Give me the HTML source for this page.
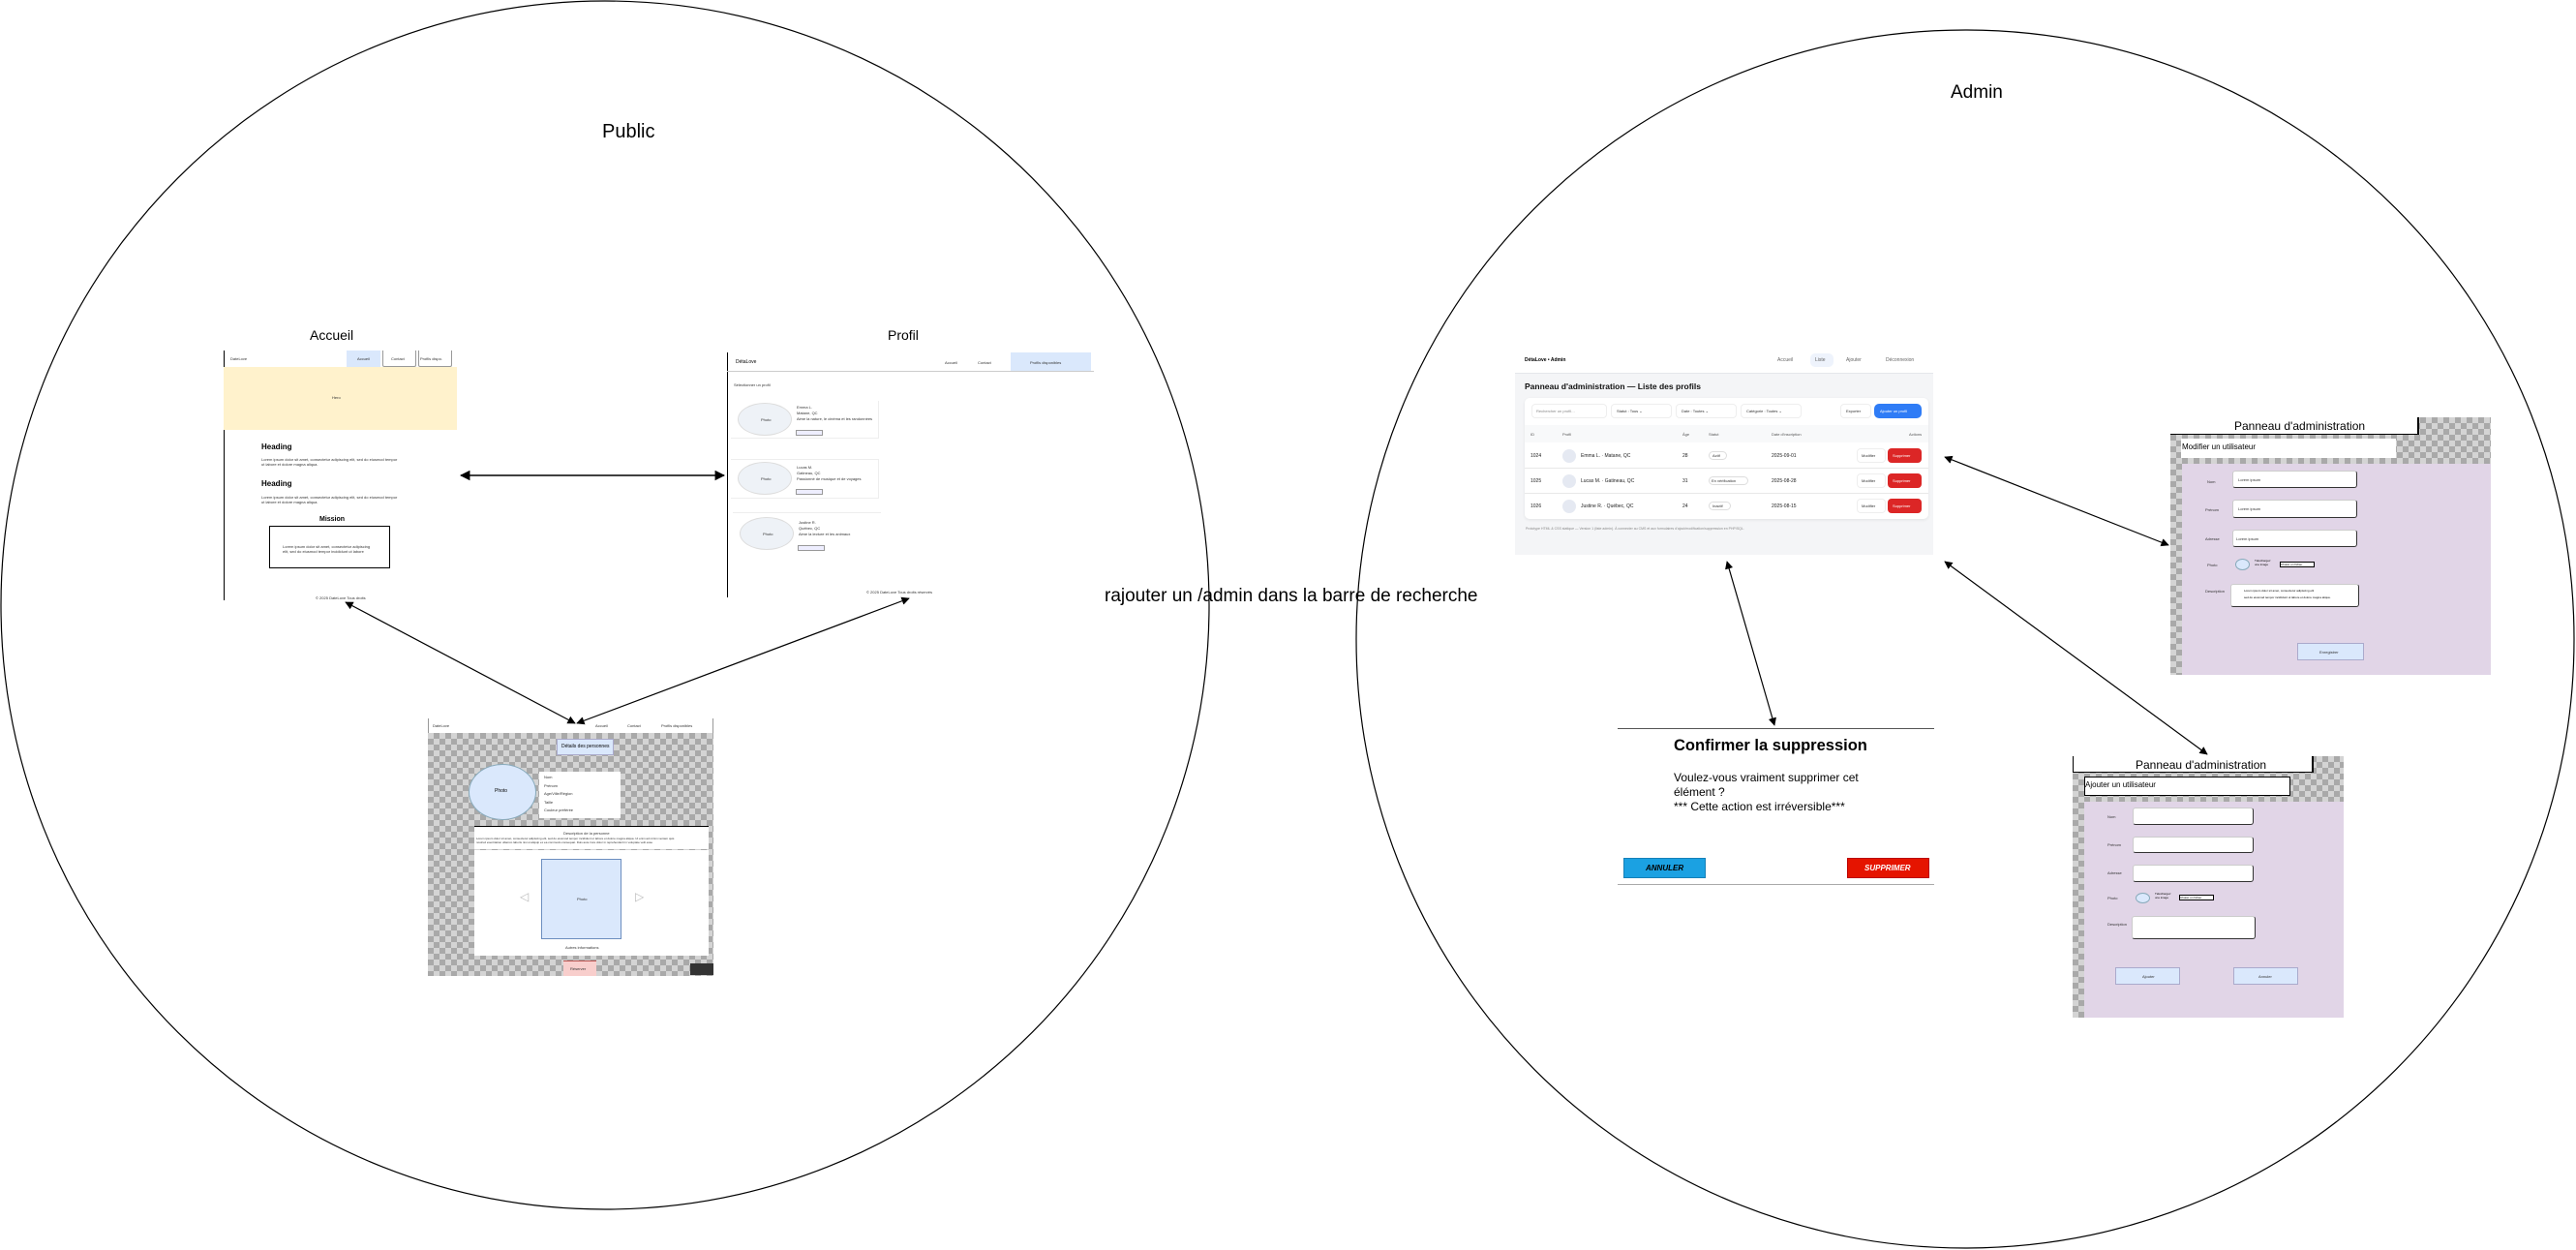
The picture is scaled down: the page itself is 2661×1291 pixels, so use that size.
<!DOCTYPE html>
<html><head><meta charset="utf-8"><style>
*{box-sizing:border-box;margin:0;padding:0}
body{width:2661px;height:1291px;background:#fff;position:relative;overflow:hidden;font-family:"Liberation Sans",sans-serif;color:#000}
.a{position:absolute}
.t{position:absolute;white-space:nowrap}
.chk{background-color:#d4d4d4;background-image:conic-gradient(#a9a9a9 25%,transparent 0 50%,#a9a9a9 0 75%,transparent 0);background-size:12px 12px}
.tiny{font-size:4px;color:#333}
.sm{font-size:5px;color:#333}
.inp{position:absolute;background:#fff;border:1px solid #333;border-radius:3px;border-top-color:#ccc;border-left-color:#ccc}
</style></head><body>

<svg class="a" style="left:0;top:0" width="2661" height="1291">
<defs>
<marker id="ar" viewBox="0 0 10 10" refX="9" refY="5" markerWidth="7" markerHeight="7" orient="auto-start-reverse"><path d="M0,0 L10,5 L0,10 z" fill="#000"/></marker>
</defs>
<ellipse cx="625" cy="625" rx="624" ry="624" fill="none" stroke="#000" stroke-width="1.2"/>
<ellipse cx="2030" cy="660" rx="629" ry="629" fill="none" stroke="#000" stroke-width="1.2"/>
<line x1="476" y1="491" x2="748" y2="491" stroke="#000" stroke-width="1.5" marker-start="url(#ar)" marker-end="url(#ar)"/>
<line x1="357" y1="622" x2="594" y2="747" stroke="#000" stroke-width="1.2" marker-start="url(#ar)" marker-end="url(#ar)"/>
<line x1="939" y1="618" x2="596" y2="747" stroke="#000" stroke-width="1.2" marker-start="url(#ar)" marker-end="url(#ar)"/>
<line x1="2009" y1="472" x2="2240" y2="563" stroke="#000" stroke-width="1.2" marker-start="url(#ar)" marker-end="url(#ar)"/>
<line x1="2009" y1="580" x2="2280" y2="779" stroke="#000" stroke-width="1.2" marker-start="url(#ar)" marker-end="url(#ar)"/>
<line x1="1784" y1="580" x2="1833" y2="749" stroke="#000" stroke-width="1.2" marker-start="url(#ar)" marker-end="url(#ar)"/>
</svg>

<div class="t" style="left:622px;top:125px;font-size:20px">Public</div>
<div class="t" style="left:2015px;top:85px;font-size:19px">Admin</div>
<div class="t" style="left:1141px;top:605px;font-size:19px">rajouter un /admin dans la barre de recherche</div>

<!-- Accueil -->
<div class="t" style="left:320px;top:338px;font-size:14px">Accueil</div>
<div class="a" style="left:231px;top:362px;width:1px;height:258px;background:#000"></div>
<div class="t tiny" style="left:238px;top:368px">DateLove</div>
<div class="a" style="left:358px;top:362px;width:35px;height:17px;background:#dae8fc"></div>
<div class="a" style="left:395px;top:362px;width:35px;height:17px;border:1px solid #999;border-top:none;border-radius:0 0 2px 2px"></div>
<div class="a" style="left:432px;top:362px;width:35px;height:17px;border:1px solid #999;border-top:none;border-radius:0 0 2px 2px"></div>
<div class="t tiny" style="left:369px;top:368px">Accueil</div>
<div class="t tiny" style="left:404px;top:368px">Contact</div>
<div class="t tiny" style="left:434px;top:368px">Profils dispo.</div>
<div class="a" style="left:231px;top:379px;width:241px;height:65px;background:#fff2cc"></div>
<div class="t tiny" style="left:343px;top:408px">Hero</div>
<div class="t" style="left:270px;top:457px;font-size:8px;font-weight:bold">Heading</div>
<div class="t tiny" style="left:270px;top:472px;line-height:5px">Lorem ipsum dolor sit amet, consectetur adipiscing elit, sed do eiusmod tempor<br>ut labore et dolore magna aliqua.</div>
<div class="t" style="left:270px;top:495px;font-size:8px;font-weight:bold">Heading</div>
<div class="t tiny" style="left:270px;top:511px;line-height:5px">Lorem ipsum dolor sit amet, consectetur adipiscing elit, sed do eiusmod tempor<br>ut labore et dolore magna aliqua.</div>
<div class="t" style="left:330px;top:533px;font-size:7px;font-weight:bold">Mission</div>
<div class="a" style="left:278px;top:543px;width:125px;height:44px;border:1px solid #000"></div>
<div class="t tiny" style="left:292px;top:562px;line-height:5px">Lorem ipsum dolor sit amet, consectetur adipiscing<br>elit, sed do eiusmod tempor incididunt ut labore</div>
<div class="t tiny" style="left:326px;top:615px">© 2025 DateLove Tous droits</div>

<!-- Profil -->
<div class="t" style="left:917px;top:338px;font-size:14px">Profil</div>
<div class="a" style="left:751px;top:364px;width:1px;height:253px;background:#000"></div>
<div class="a" style="left:751px;top:383px;width:379px;height:1px;background:#ccc"></div>
<div class="a" style="left:1044px;top:364px;width:83px;height:19px;background:#dae8fc"></div>
<div class="t sm" style="left:760px;top:371px;color:#000">DétaLove</div>
<div class="t tiny" style="left:976px;top:372px">Accueil</div>
<div class="t tiny" style="left:1010px;top:372px">Contact</div>
<div class="t tiny" style="left:1064px;top:372px">Profils disponibles</div>
<div class="t tiny" style="left:758px;top:395px">Sélectionner un profil</div>
<div class="a" style="left:755px;top:414px;width:153px;height:39px;border:1px solid #eee;border-left:none;border-top:none"></div>
<div class="a" style="left:762px;top:416px;width:56px;height:34px;border-radius:50%;background:#eef2f7;border:1px solid #ddd"></div>
<div class="t tiny" style="left:786px;top:431px">Photo</div>
<div class="t tiny" style="left:823px;top:418px;line-height:6px">Emma L.<br>Matane, QC<br>Aime la nature, le cinéma et les randonnées</div>
<div class="a" style="left:822px;top:444px;width:28px;height:6px;border:1px solid #999;background:#eef"></div>
<div class="a" style="left:755px;top:474px;width:153px;height:41px;border:1px solid #eee;border-left:none"></div>
<div class="a" style="left:762px;top:477px;width:56px;height:34px;border-radius:50%;background:#eef2f7;border:1px solid #ddd"></div>
<div class="t tiny" style="left:786px;top:492px">Photo</div>
<div class="t tiny" style="left:823px;top:480px;line-height:6px">Lucas M.<br>Gatineau, QC<br>Passionné de musique et de voyages</div>
<div class="a" style="left:822px;top:505px;width:28px;height:6px;border:1px solid #999;background:#eef"></div>
<div class="a" style="left:757px;top:529px;width:153px;height:43px;border-top:1px solid #eee"></div>
<div class="a" style="left:764px;top:534px;width:56px;height:34px;border-radius:50%;background:#eef2f7;border:1px solid #ddd"></div>
<div class="t tiny" style="left:788px;top:549px">Photo</div>
<div class="t tiny" style="left:825px;top:537px;line-height:6px">Justine R.<br>Québec, QC<br>Aime la lecture et les animaux</div>
<div class="a" style="left:824px;top:563px;width:28px;height:6px;border:1px solid #999;background:#eef"></div>
<div class="t tiny" style="left:895px;top:609px">© 2025 DateLove Tous droits réservés</div>

<!-- Detail -->
<div class="a" style="left:442px;top:742px;width:295px;height:15px;border-left:1px solid #999;border-right:1px solid #999"></div>
<div class="t tiny" style="left:447px;top:747px">DateLove</div>
<div class="t tiny" style="left:615px;top:747px">Accueil</div>
<div class="t tiny" style="left:648px;top:747px">Contact</div>
<div class="t tiny" style="left:683px;top:747px">Profils disponibles</div>
<div class="a chk" style="left:442px;top:757px;width:295px;height:251px"></div>
<div class="a" style="left:575px;top:763px;width:59px;height:17px;background:#dae8fc;border:1px solid #aac"></div>
<div class="t" style="left:580px;top:768px;font-size:5px">Détails des personnes</div>
<div class="a" style="left:484px;top:789px;width:70px;height:58px;border-radius:50%;background:#dae8fc;border:1px solid #8ab"></div>
<div class="t" style="left:511px;top:814px;font-size:5px">Photo</div>
<div class="a" style="left:557px;top:797px;width:84px;height:48px;background:#fff"></div>
<div class="t tiny" style="left:562px;top:799px;line-height:8.5px">Nom<br>Prénom<br>Age/Ville/Région<br>Taille<br>Couleur préférée</div>
<div class="a" style="left:490px;top:853px;width:242px;height:24px;background:#fff;border-top:1px solid #000"></div>
<div class="t tiny" style="left:582px;top:858px">Description de la personne</div>
<div class="t tiny" style="left:492px;top:864px;line-height:4px;font-size:3px">Lorem ipsum dolor sit amet, consectetur adipiscing elit, sed do eiusmod tempor incididunt ut labore et dolore magna aliqua. Ut enim ad minim veniam quis<br>nostrud exercitation ullamco laboris nisi ut aliquip ex ea commodo consequat. Duis aute irure dolor in reprehenderit in voluptate velit esse</div>
<div class="a" style="left:490px;top:878px;width:242px;height:109px;background:#fff"></div>
<div class="a" style="left:559px;top:887px;width:83px;height:83px;background:#dae8fc;border:1px solid #6c8ebf"></div>
<div class="t tiny" style="left:596px;top:926px">Photo</div>
<div class="t" style="left:537px;top:919px;font-size:12px;color:#bbb">◁</div>
<div class="t" style="left:656px;top:919px;font-size:12px;color:#bbb">▷</div>
<div class="t tiny" style="left:584px;top:976px">Autres informations</div>
<div class="a" style="left:582px;top:992px;width:34px;height:16px;background:#f8cecc;border-top:1px solid #b85450"></div>
<div class="t tiny" style="left:589px;top:998px">Réserver</div>
<div class="a" style="left:713px;top:995px;width:24px;height:12px;background:#333"></div>

<!-- Admin list -->
<div class="a" style="left:1565px;top:358px;width:432px;height:215px;background:#f4f5f7"></div>
<div class="a" style="left:1565px;top:358px;width:432px;height:28px;background:#fff;border-bottom:1px solid #e5e7eb"></div>
<div class="t" style="left:1575px;top:369px;font-size:5px;font-weight:bold">DétaLove • Admin</div>
<div class="a" style="left:1870px;top:365px;width:24px;height:14px;background:#eef3fc;border-radius:5px"></div>
<div class="t sm" style="left:1836px;top:369px;color:#666">Accueil</div>
<div class="t sm" style="left:1875px;top:369px;color:#666">Liste</div>
<div class="t sm" style="left:1907px;top:369px;color:#666">Ajouter</div>
<div class="t sm" style="left:1948px;top:369px;color:#666">Déconnexion</div>
<div class="t" style="left:1575px;top:394px;font-size:8.5px;font-weight:bold;color:#111">Panneau d'administration — Liste des profils</div>
<div class="a" style="left:1575px;top:411px;width:417px;height:125px;background:#fff;border-radius:5px;box-shadow:0 1px 3px rgba(0,0,0,.08)"></div>
<div class="a" style="left:1582px;top:417px;width:78px;height:15px;border:1px solid #eee;border-radius:4px"></div>
<div class="t tiny" style="left:1587px;top:422px;color:#888">Rechercher un profil…</div>
<div class="a" style="left:1664px;top:417px;width:63px;height:15px;border:1px solid #eee;border-radius:4px"></div>
<div class="t tiny" style="left:1670px;top:422px">Statut : Tous ⌄</div>
<div class="a" style="left:1731px;top:417px;width:63px;height:15px;border:1px solid #eee;border-radius:4px"></div>
<div class="t tiny" style="left:1737px;top:422px">Date : Toutes ⌄</div>
<div class="a" style="left:1798px;top:417px;width:63px;height:15px;border:1px solid #eee;border-radius:4px"></div>
<div class="t tiny" style="left:1804px;top:422px">Catégorie : Toutes ⌄</div>
<div class="a" style="left:1901px;top:417px;width:32px;height:15px;border:1px solid #eee;border-radius:4px"></div>
<div class="t tiny" style="left:1907px;top:422px">Exporter</div>
<div class="a" style="left:1936px;top:417px;width:49px;height:15px;background:#2f7cf6;border-radius:5px"></div>
<div class="t tiny" style="left:1942px;top:422px;color:#fff">Ajouter un profil</div>
<div class="a" style="left:1575px;top:439px;width:417px;height:18px;background:#f8f9fa"></div>
<div class="t tiny" style="left:1581px;top:446px;color:#555">ID</div>
<div class="t tiny" style="left:1614px;top:446px;color:#555">Profil</div>
<div class="t tiny" style="left:1738px;top:446px;color:#555">Âge</div>
<div class="t tiny" style="left:1765px;top:446px;color:#555">Statut</div>
<div class="t tiny" style="left:1830px;top:446px;color:#555">Date d'inscription</div>
<div class="t tiny" style="left:1972px;top:446px;color:#555">Actions</div>
<div class="a" style="left:1575px;top:483px;width:417px;height:1px;background:#e8e8e8"></div>
<div class="a" style="left:1575px;top:509px;width:417px;height:1px;background:#e8e8e8"></div>

<div class="t sm" style="left:1581px;top:468px;color:#222">1024</div>
<div class="a" style="left:1614px;top:464px;width:14px;height:14px;border-radius:50%;background:#e5e9f2"></div>
<div class="t sm" style="left:1633px;top:468px;color:#222">Emma L. · Matane, QC</div>
<div class="t sm" style="left:1738px;top:468px;color:#222">28</div>
<div class="a" style="left:1765px;top:466px;width:19px;height:9px;border:1px solid #ddd;border-radius:5px"></div>
<div class="t tiny" style="left:1769px;top:468px">Actif</div>
<div class="t sm" style="left:1830px;top:468px;color:#222">2025-09-01</div>

<div class="t sm" style="left:1581px;top:494px;color:#222">1025</div>
<div class="a" style="left:1614px;top:490px;width:14px;height:14px;border-radius:50%;background:#e5e9f2"></div>
<div class="t sm" style="left:1633px;top:494px;color:#222">Lucas M. · Gatineau, QC</div>
<div class="t sm" style="left:1738px;top:494px;color:#222">31</div>
<div class="a" style="left:1765px;top:492px;width:41px;height:9px;border:1px solid #ddd;border-radius:5px"></div>
<div class="t tiny" style="left:1768px;top:494px">En vérification</div>
<div class="t sm" style="left:1830px;top:494px;color:#222">2025-08-28</div>

<div class="t sm" style="left:1581px;top:520px;color:#222">1026</div>
<div class="a" style="left:1614px;top:516px;width:14px;height:14px;border-radius:50%;background:#e5e9f2"></div>
<div class="t sm" style="left:1633px;top:520px;color:#222">Justine R. · Québec, QC</div>
<div class="t sm" style="left:1738px;top:520px;color:#222">24</div>
<div class="a" style="left:1765px;top:518px;width:23px;height:9px;border:1px solid #ddd;border-radius:5px"></div>
<div class="t tiny" style="left:1769px;top:520px">Inactif</div>
<div class="t sm" style="left:1830px;top:520px;color:#222">2025-08-15</div>

<div class="a" style="left:1918px;top:463px;width:30px;height:15px;border:1px solid #eee;border-radius:4px"></div>
<div class="a" style="left:1950px;top:463px;width:35px;height:15px;background:#dc2626;border-radius:4px"></div>
<div class="t tiny" style="left:1923px;top:468px">Modifier</div>
<div class="t tiny" style="left:1955px;top:468px;color:#fff">Supprimer</div>
<div class="a" style="left:1918px;top:489px;width:30px;height:15px;border:1px solid #eee;border-radius:4px"></div>
<div class="a" style="left:1950px;top:489px;width:35px;height:15px;background:#dc2626;border-radius:4px"></div>
<div class="t tiny" style="left:1923px;top:494px">Modifier</div>
<div class="t tiny" style="left:1955px;top:494px;color:#fff">Supprimer</div>
<div class="a" style="left:1918px;top:515px;width:30px;height:15px;border:1px solid #eee;border-radius:4px"></div>
<div class="a" style="left:1950px;top:515px;width:35px;height:15px;background:#dc2626;border-radius:4px"></div>
<div class="t tiny" style="left:1923px;top:520px">Modifier</div>
<div class="t tiny" style="left:1955px;top:520px;color:#fff">Supprimer</div>
<div class="t" style="left:1576px;top:544px;font-size:3.5px;color:#888">Prototype HTML &amp; CSS statique — Version 1 (liste admin). À connecter au CMS et aux formulaires d'ajout/modification/suppression en PHP/SQL.</div>

<!-- Confirm -->
<div class="a" style="left:1671px;top:752px;width:327px;height:1px;background:#555"></div>
<div class="a" style="left:1671px;top:913px;width:327px;height:1px;background:#aaa"></div>
<div class="t" style="left:1729px;top:761px;font-size:16.5px;font-weight:bold">Confirmer la suppression</div>
<div class="t" style="left:1729px;top:796px;font-size:12px;line-height:15px">Voulez-vous vraiment supprimer cet<br>élément ?<br>*** Cette action est irréversible***</div>
<div class="a" style="left:1677px;top:886px;width:85px;height:21px;background:#1ba1e2;border:1px solid #1580b8"></div>
<div class="t" style="left:1700px;top:892px;font-size:8px;font-weight:bold;font-style:italic">ANNULER</div>
<div class="a" style="left:1908px;top:886px;width:85px;height:21px;background:#e51400;border:1px solid #b00"></div>
<div class="t" style="left:1926px;top:892px;font-size:8px;font-weight:bold;font-style:italic;color:#fff">SUPPRIMER</div>

<!-- Modifier panel -->
<div class="a chk" style="left:2242px;top:431px;width:331px;height:266px"></div>
<div class="a" style="left:2242px;top:431px;width:257px;height:18px;background:#fff;border:1px solid #000;border-left:none;border-top:none;border-right-width:2px"></div>
<div class="t" style="left:2308px;top:433px;font-size:12px">Panneau d'administration</div>
<div class="a" style="left:2253px;top:453px;width:222px;height:20px;background:#fff"></div>
<div class="t" style="left:2254px;top:457px;font-size:8px">Modifier un utilisateur</div>
<div class="a" style="left:2254px;top:479px;width:319px;height:218px;background:#e1d5e7"></div>
<div class="t tiny" style="left:2280px;top:495px">Nom</div>
<div class="t tiny" style="left:2278px;top:524px">Prénom</div>
<div class="t tiny" style="left:2278px;top:554px">Adresse</div>
<div class="t tiny" style="left:2280px;top:581px">Photo</div>
<div class="t tiny" style="left:2278px;top:608px">Description</div>
<div class="inp" style="left:2306px;top:486px;width:129px;height:18px"></div>
<div class="inp" style="left:2306px;top:516px;width:129px;height:19px"></div>
<div class="inp" style="left:2306px;top:547px;width:129px;height:18px"></div>
<div class="t tiny" style="left:2312px;top:493px">Lorem ipsum</div>
<div class="t tiny" style="left:2312px;top:523px">Lorem ipsum</div>
<div class="t tiny" style="left:2310px;top:554px">Lorem ipsum</div>
<div class="a" style="left:2309px;top:577px;width:15px;height:12px;border-radius:50%;background:#dae8fc;border:1px solid #8ab"></div>
<div class="t" style="left:2329px;top:578px;font-size:3px;line-height:3.5px">Téléchargez<br>une image</div>
<div class="a" style="left:2355px;top:580px;width:36px;height:6px;background:#fff;border:1px solid #000"></div>
<div class="t" style="left:2356px;top:581px;font-size:3px">Choisir un fichier</div>
<div class="inp" style="left:2304px;top:603px;width:133px;height:24px"></div>
<div class="t" style="left:2318px;top:607px;font-size:3px;line-height:7px">Lorem ipsum dolor sit amet, consectetur adipiscing elit<br>sed do eiusmod tempor incididunt ut labore et dolore magna aliqua.</div>
<div class="a" style="left:2373px;top:664px;width:69px;height:18px;background:#dae8fc;border:1px solid #aac"></div>
<div class="t tiny" style="left:2396px;top:671px">Enregistrer</div>

<!-- Ajouter panel -->
<div class="a chk" style="left:2141px;top:781px;width:280px;height:270px"></div>
<div class="a" style="left:2141px;top:781px;width:249px;height:17px;background:#fff;border:1px solid #000;border-top:none;border-right-width:2px"></div>
<div class="t" style="left:2206px;top:783px;font-size:12px">Panneau d'administration</div>
<div class="a" style="left:2153px;top:802px;width:213px;height:20px;background:#fff;border:1px solid #000"></div>
<div class="t" style="left:2154px;top:806px;font-size:8px">Ajouter un utilisateur</div>
<div class="a" style="left:2153px;top:828px;width:268px;height:223px;background:#e1d5e7"></div>
<div class="t tiny" style="left:2177px;top:841px">Nom</div>
<div class="t tiny" style="left:2177px;top:870px">Prénom</div>
<div class="t tiny" style="left:2177px;top:899px">Adresse</div>
<div class="t tiny" style="left:2177px;top:925px">Photo</div>
<div class="t tiny" style="left:2177px;top:952px">Description</div>
<div class="inp" style="left:2203px;top:834px;width:125px;height:18px"></div>
<div class="inp" style="left:2203px;top:864px;width:125px;height:17px"></div>
<div class="inp" style="left:2203px;top:893px;width:125px;height:18px"></div>
<div class="a" style="left:2206px;top:922px;width:15px;height:11px;border-radius:50%;background:#dae8fc;border:1px solid #8ab"></div>
<div class="t" style="left:2226px;top:922px;font-size:3px;line-height:3.5px">Téléchargez<br>une image</div>
<div class="a" style="left:2251px;top:924px;width:36px;height:6px;background:#fff;border:1px solid #000"></div>
<div class="t" style="left:2252px;top:925px;font-size:3px">Choisir un fichier</div>
<div class="inp" style="left:2202px;top:946px;width:128px;height:24px"></div>
<div class="a" style="left:2185px;top:999px;width:67px;height:18px;background:#dae8fc;border:1px solid #aac"></div>
<div class="t tiny" style="left:2213px;top:1006px">Ajouter</div>
<div class="a" style="left:2307px;top:999px;width:67px;height:18px;background:#dae8fc;border:1px solid #aac"></div>
<div class="t tiny" style="left:2333px;top:1006px">Annuler</div>

</body></html>
